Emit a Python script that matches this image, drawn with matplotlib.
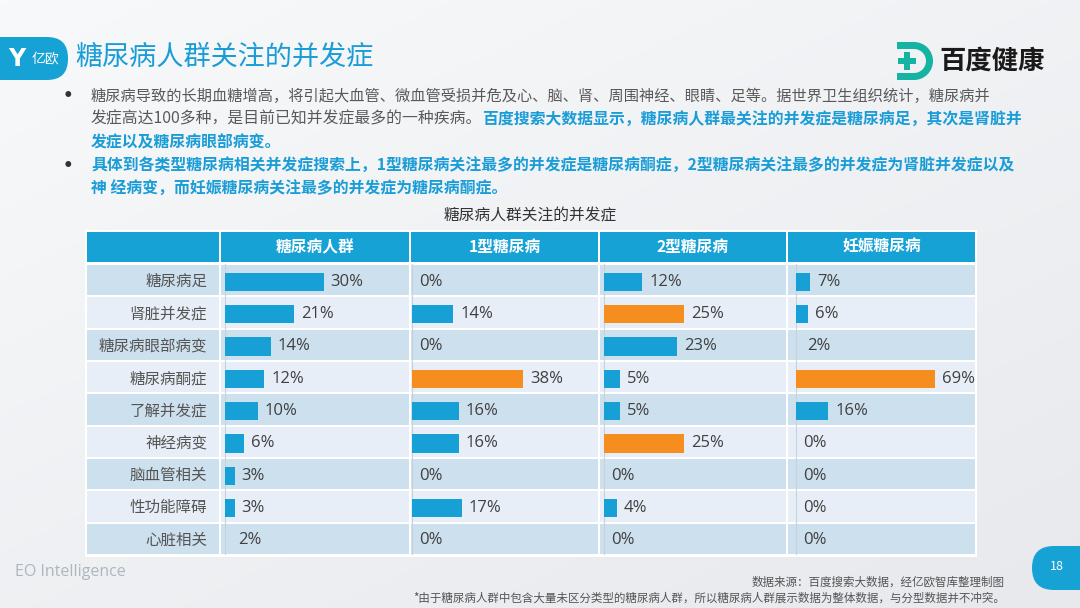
import numpy as np
import matplotlib
matplotlib.use('Agg')
import matplotlib.pyplot as plt
from matplotlib.patches import FancyBboxPatch, Rectangle, Wedge
from matplotlib.colors import LinearSegmentedColormap

plt.rcParams['font.family'] = ['Noto Sans CJK SC', 'DejaVu Sans']

# data
complications = ['糖尿病足', '肾脏并发症', '糖尿病眼部病变', '糖尿病酮症', '了解并发症',
                 '神经病变', '脑血管相关', '性功能障碍', '心脏相关']
col_titles = ['糖尿病人群', '1型糖尿病', '2型糖尿病', '妊娠糖尿病']
v_all = [30, 21, 14, 12, 10, 6, 3, 3, 2]
v_type1 = [0, 14, 0, 38, 16, 16, 0, 17, 0]
v_type2 = [12, 25, 23, 5, 5, 25, 0, 4, 0]
v_gest = [7, 6, 2, 69, 16, 0, 0, 0, 0]
series = [v_all, v_type1, v_type2, v_gest]

title = '糖尿病人群关注的并发症'
table_title = '糖尿病人群关注的并发症'
GRAY = '#595959'
BLUE = '#1a9dd7'
bullet_lines = [
    [('糖尿病导致的长期血糖增高，将引起大血管、微血管受损并危及心、脑、肾、周围神经、眼睛、足等。据世界卫生组织统计，糖尿病并', GRAY, 'normal')],
    [('发症高达100多种，是目前已知并发症最多的一种疾病。', GRAY, 'normal'),
     ('百度搜索大数据显示，糖尿病人群最关注的并发症是糖尿病足，其次是肾脏并', BLUE, 'bold')],
    [('发症以及糖尿病眼部病变。', BLUE, 'bold')],
    [('具体到各类型糖尿病相关并发症搜索上，1型糖尿病关注最多的并发症是糖尿病酮症，2型糖尿病关注最多的并发症为肾脏并发症以及', BLUE, 'bold')],
    [('神 经病变，而妊娠糖尿病关注最多的并发症为糖尿病酮症。', BLUE, 'bold')],
]
source1 = '数据来源：百度搜索大数据，经亿欧智库整理制图'
source2 = '*由于糖尿病人群中包含大量未区分类型的糖尿病人群，所以糖尿病人群展示数据为整体数据，与分型数据并不冲突。'

W, H = 1080, 608
fig = plt.figure(figsize=(W / 100, H / 100), dpi=100)


def px_axes(x0, y0, x1, y1, z=1):
    ax = fig.add_axes([x0 / W, 1 - y1 / H, (x1 - x0) / W, (y1 - y0) / H])
    ax.set_zorder(z)
    return ax


# background layer in pixel coords
bg = px_axes(0, 0, W, H, z=0)
yy, xx = np.mgrid[0:1:120j, 0:1:200j]
grad = 0.55 * yy + 0.45 * xx
bg.imshow(grad, extent=(0, W, H, 0), aspect='auto', zorder=0,
          cmap=LinearSegmentedColormap.from_list('bgc', ['#f8f9fa', '#e7e9ed']))
bg.set_xlim(0, W)
bg.set_ylim(H, 0)
bg.axis('off')

# logo yiou
bg.add_patch(FancyBboxPatch((-40, 37), 108, 43, boxstyle='round,pad=0,rounding_size=21',
                            fc='#17a2d6', ec='none', zorder=2))
bg.text(17, 59, 'Y', color='white', fontsize=17, fontweight='bold', ha='center', va='center',
        family='DejaVu Sans', zorder=3)
bg.text(45, 59, '亿欧', color='white', fontsize=10, ha='center', va='center', zorder=3)
bg.text(75, 57, title, color='#1a9dd7', fontsize=19.5, va='center', zorder=3)

# logo baidu health
teal = '#15b3a2'
bg.add_patch(Wedge((914, 61), 19, -90, 90, width=7, fc=teal, ec='none', zorder=2))
bg.add_patch(Rectangle((897, 42), 17, 7, fc=teal, ec='none', zorder=2))
bg.add_patch(Rectangle((897, 73), 17, 7, fc=teal, ec='none', zorder=2))
bg.add_patch(Rectangle((898, 58), 18, 6, fc=teal, ec='none', zorder=2))
bg.add_patch(Rectangle((904, 52), 6, 18, fc=teal, ec='none', zorder=2))
bg.text(939, 61, '百度健康', color='#1a1a1a', fontsize=19, fontweight='bold', va='center', zorder=3)

# bullet text
line_y = [96, 119, 142, 166, 189]
line_size = [10.95, 11.4, 11.4, 11.4, 11.4]
for y in (96, 166):
    bg.text(68, y, '•', color='#333333', fontsize=12, fontweight='bold', va='center',
            ha='center', family='DejaVu Sans')
for y, fs, parts in zip(line_y, line_size, bullet_lines):
    s, c, w = parts[0]
    t = bg.text(91, y, s, color=c, fontsize=fs, fontweight=w, va='center')
    for s, c, w in parts[1:]:
        t = bg.annotate(s, xy=(1, 0), xycoords=t, va='bottom', ha='left',
                        color=c, fontsize=fs, fontweight=w)

# table
bg.text(530, 216, table_title, color='#333333', fontsize=11.3, ha='center', va='center')
bg.add_patch(Rectangle((85, 230), 892, 327, fc='white', ec='none', zorder=1))
cols_x = [(87, 219), (221, 409), (411, 598), (600, 786), (788, 975)]
for k, (x0, x1) in enumerate(cols_x):
    bg.add_patch(Rectangle((x0, 232), x1 - x0, 30, fc='#17a2d6', ec='none', zorder=2))
    if k > 0:
        bg.text((x0 + x1) / 2, 247, col_titles[k - 1], color='white', fontsize=11.3,
                fontweight='bold', ha='center', va='center', zorder=3)

n = len(complications)
rows = np.arange(n)
dark, light = '#cde0ee', '#e7eef7'
col_pad = [3.6, 1.3, 4.0, 8.0]      # px from column edge to bar baseline
col_ppu = [3.3, 2.92, 3.19, 2.02]   # px per percent in each column

for k, (x0, x1) in enumerate(cols_x):
    ax = px_axes(x0, 264, x1, 555, z=2)
    ax.set_ylim(n - 0.5, -0.5)
    ax.patch.set_alpha(0)
    for sp in ax.spines.values():
        sp.set_visible(False)
    ax.set_xticks([])
    ax.set_yticks([])
    for i in rows:
        ax.axhspan(i - 0.47, i + 0.47, color=dark if i % 2 == 0 else light, lw=0, zorder=0)
    if k == 0:
        ax.set_xlim(0, 1)
        for i, lab in enumerate(complications):
            ax.text(0.91, i + 0.04, lab, color='#555555', fontsize=11.2, ha='right', va='center')
        continue
    vals = np.array(series[k - 1])
    width = x1 - x0
    ax.set_xlim(-col_pad[k - 1] / col_ppu[k - 1], (width - col_pad[k - 1]) / col_ppu[k - 1])
    ax.axvline(0, color='#c8d2dc', lw=0.8, zorder=1)
    colors = ['#17a0d5'] * n
    if k > 1:
        colors = ['#f58d1f' if v == vals.max() else '#17a0d5' for v in vals]
    shown = vals >= 3
    ax.barh(rows[shown] + 0.05, vals[shown], height=0.56, color=np.array(colors)[shown], zorder=3)
    for i, v in enumerate(vals):
        ax.annotate(f'{v}%', xy=(v, i + 0.05), xytext=(5, 0), textcoords='offset points',
                    va='center', ha='left', fontsize=12, color='#404040',
                    family=['Open Sans', 'DejaVu Sans'], zorder=4)

# footer
bg.text(15, 572, 'EO Intelligence', color='#aeb6bf', fontsize=11.5,
        family=['Open Sans', 'DejaVu Sans'], va='center')
bg.add_patch(FancyBboxPatch((1032, 546), 90, 44, boxstyle='round,pad=0,rounding_size=22',
                            fc='#17a2d6', ec='none', zorder=2))
bg.text(1057, 566, '18', color='white', fontsize=9, ha='center', va='center', zorder=3)
bg.text(1005, 582, source1, color='#555555', fontsize=8.3, ha='right', va='center')
bg.text(1005, 598, source2, color='#555555', fontsize=8.3, ha='right', va='center')

fig.savefig('out.png', dpi=100)
